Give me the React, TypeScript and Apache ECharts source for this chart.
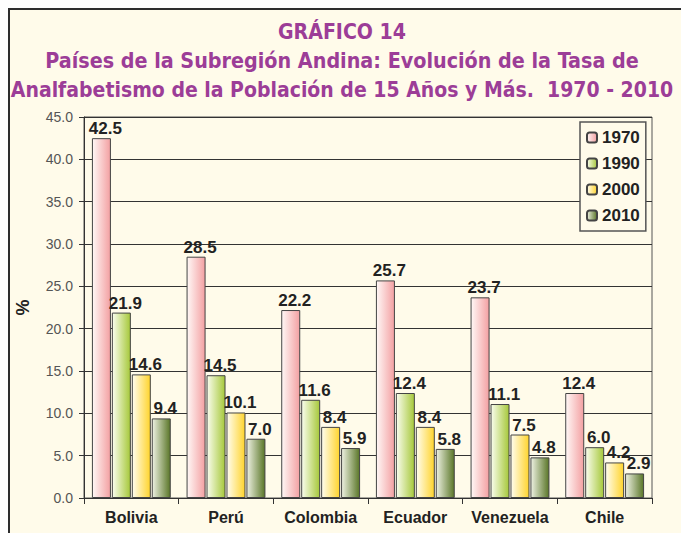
import React, { useEffect, useRef } from "react";
import * as echarts from "echarts";

const categories = ["Bolivia", "Perú", "Colombia", "Ecuador", "Venezuela", "Chile"];
const years = ["1970", "1990", "2000", "2010"];
const v1970 = [42.5, 28.5, 22.2, 25.7, 23.7, 12.4];
const v1990 = [21.9, 14.5, 11.6, 12.4, 11.1, 6.0];
const v2000 = [14.6, 10.1, 8.4, 8.4, 7.5, 4.2];
const v2010 = [9.4, 7.0, 5.9, 5.8, 4.8, 2.9];
const titleLines = [
  "GRÁFICO 14",
  "Países de la Subregión Andina: Evolución de la Tasa de",
  "Analfabetismo de la Población de 15 Años y Más.  1970 - 2010",
];

const seriesValues = [v1970, v1990, v2000, v2010];
const gradients = [
  ["#fff8f6", "#f3a0a2"],
  ["#fafdee", "#a6c83a"],
  ["#fffdf0", "#ffd42c"],
  ["#eef1e2", "#5a7628"],
];

const FONT = "Liberation Sans, Arial, sans-serif";
const TITLE_FONT = "'Liberation Sans Narrow', 'DejaVu Sans Condensed', sans-serif";

export default function App() {
  const ref = useRef<HTMLDivElement>(null);
  useEffect(() => {
    if (!ref.current) return;
    const chart = echarts.init(ref.current, null, { renderer: "svg" });
    const option: any = {
      animation: false,
      backgroundColor: "#ffffff",
      textStyle: { fontFamily: FONT },
      graphic: [
        {
          type: "rect",
          z: -10,
          shape: { x: 9, y: 9, width: 700, height: 560 },
          style: { fill: "#fffbea", stroke: "#2e2e2e", lineWidth: 2 },
        },
        ...titleLines.map((t, i) => ({
          type: "text",
          z: 10,
          x: 342,
          y: 31 + i * 29,
          scaleX: i === 0 ? 0.96 : i === 1 ? 0.97 : 0.955,
          style: {
            text: t,
            fill: "#9c3d97",
            font: `bold 22px ${TITLE_FONT}`,
            align: "center",
            verticalAlign: "middle",
          },
        })),
      ],
      grid: {
        left: 84,
        right: 29,
        top: 117,
        bottom: 35,
        show: true,
        borderColor: "#555",
        borderWidth: 1,
        backgroundColor: "transparent",
      },
      legend: {
        orient: "vertical",
        left: 580,
        top: 122,
        width: 71,
        padding: [7, 6, 7, 6],
        itemWidth: 10,
        itemHeight: 10,
        itemGap: 9,
        borderColor: "#555",
        borderWidth: 1.5,
        backgroundColor: "#fffbea",
        textStyle: { fontSize: 17, fontWeight: "bold", color: "#222", fontFamily: FONT, padding: [0, 0, 0, 0] },
        data: years,
      },
      xAxis: {
        type: "category",
        data: categories,
        axisLine: { lineStyle: { color: "#333", width: 1 } },
        axisTick: { show: true, alignWithLabel: false, length: 6, lineStyle: { color: "#333" } },
        axisLabel: { interval: 0, fontSize: 16, fontWeight: "bold", color: "#222", margin: 11, fontFamily: FONT },
      },
      yAxis: {
        type: "value",
        min: 0,
        max: 45,
        interval: 5,
        name: "%",
        nameLocation: "middle",
        nameGap: 52,
        nameRotate: 90,
        nameTextStyle: { fontSize: 18, fontWeight: "bold", color: "#222" },
        axisLine: { show: true, lineStyle: { color: "#333" } },
        axisTick: { show: true, length: 5, lineStyle: { color: "#333" } },
        axisLabel: {
          fontSize: 14,
          color: "#555",
          margin: 11,
          formatter: (v: number) => v.toFixed(1),
        },
        splitLine: { show: true, lineStyle: { color: "#333", width: 1 } },
      },
      series: years.map((y, i) => ({
        name: y,
        type: "bar",
        data: seriesValues[i],
        barWidth: 19,
        barGap: "5%",
        itemStyle: {
          color: new echarts.graphic.LinearGradient(0, 0, 1, 0, [
            { offset: 0, color: gradients[i][0] },
            { offset: 1, color: gradients[i][1] },
          ]),
          borderColor: "#444",
          borderWidth: 1,
        },
        label: {
          show: true,
          position: "top",
          distance: 1,
          offset: [4, 0],
          fontSize: 17,
          fontWeight: "bold",
          color: "#222",
          fontFamily: FONT,
          formatter: (p: any) => Number(p.value).toFixed(1),
        },
      })),
    };
    chart.setOption(option);
    return () => chart.dispose();
  }, []);
  return (
    <div
      ref={ref}
      style={{ position: "fixed", left: 0, top: 0, width: 681, height: 533 }}
    />
  );
}
